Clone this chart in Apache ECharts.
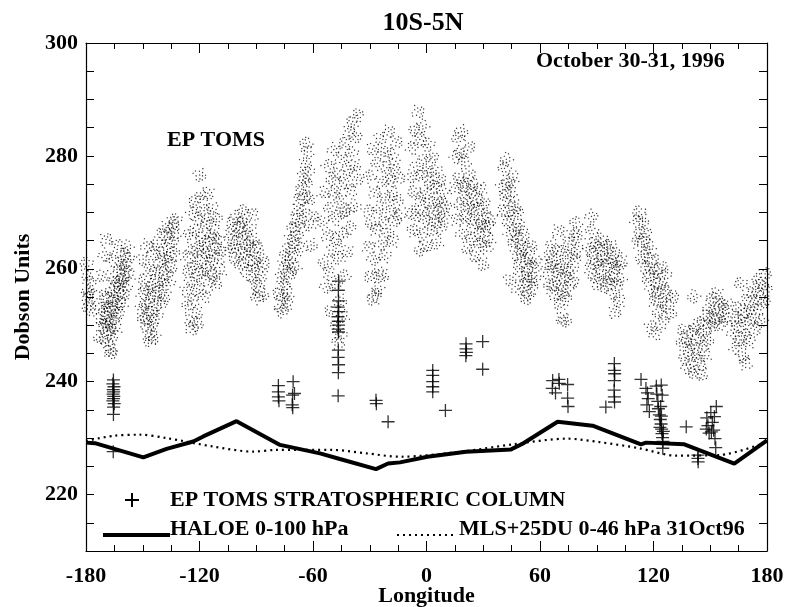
<!DOCTYPE html>
<html>
<head>
    <meta charset="utf-8">
    <script src="https://cdn.jsdelivr.net/npm/echarts@6/dist/echarts.min.js"></script>
</head>
<body style="margin:0;background:#fff;">
    <div id="main" style="width:786px;height:607px;"></div>
<script type="text/javascript">
    // EP TOMS total column, one array per orbit swath [longitude, DU]
    var swath0 = [[-179.5,259],[-178.8,256],[-179.2,253.5],[-177.8,257.5],[-178.5,254.8],[-179.7,261],[-177.5,252.8],[-178.2,255.9]];
    var swath1 = [[-172.5,251.2],[-171.8,253.4],[-171,249.8],[-170.6,255.1],[-170.2,252.2],[-169.8,247.6],[-169.5,250.6],[-169.1,254.3],[-168.7,248.9],[-168.4,251.8],[-168,246.4],[-167.7,249.7],[-167.4,253.1],[-167,250.4],[-166.6,256.2],[-166.3,248.2],[-166,252.7],[-165.6,254.9],[-165.3,250.9],[-164.9,257.6],[-164.6,253.5],[-164.2,249.5],[-163.8,255.8],[-163.5,258.7],[-163.1,252.1],[-162.8,256.9],[-162.4,254.2],[-162.1,259.8],[-161.7,257.2],[-161.3,253.8],[-161,261.1],[-160.6,258.3],[-160.2,255.4],[-159.9,262.6],[-159.5,259.4],[-159.1,256.8],[-158.7,260.7],[-158.3,263.9],[-171.3,258.8],[-170.1,262.4],[-169.4,265.2],[-165.9,261.5],[-163.2,264.1],[-157.9,261.8],[-157.2,258.9],[-172.9,247.9],[-167.2,245.6],[-166.8,245.1]];
    var swath2 = [[-150.5,252.8],[-150,255.6],[-149.5,250.9],[-149,258.1],[-148.6,253.7],[-148.1,251.2],[-147.7,256.4],[-147.2,249.6],[-146.8,254.5],[-146.4,259.8],[-146,252.3],[-145.6,248.4],[-145.2,257.1],[-144.8,250.7],[-144.3,262.6],[-143.9,255.2],[-143.5,253.1],[-143.1,259.3],[-142.7,251.6],[-142.2,264.4],[-141.8,257.8],[-141.4,255.9],[-141,261.2],[-140.5,253.8],[-140.1,266.1],[-139.7,259.7],[-139.3,257.4],[-138.9,263.3],[-138.4,255.2],[-138,261.8],[-137.6,267.3],[-137.1,259.1],[-136.7,264.6],[-136.3,257.6],[-135.8,262.2],[-135.4,266.8],[-135,260.4],[-134.5,264.9],[-134.1,268.2],[-133.6,262.7],[-133.1,266.3],[-132.6,268.7],[-146.5,247.3],[-144.1,247.9],[-149.8,261.7],[-147.9,264.1]];
    var swath3 = [[-126.8,256.2],[-126.4,262.1],[-126,253.4],[-125.6,259.7],[-125.2,266.3],[-124.8,250.8],[-124.4,257.9],[-124,263.6],[-123.6,269.8],[-123.2,254.5],[-122.8,260.4],[-122.4,271.9],[-122,266.7],[-121.6,252.2],[-121.2,258.8],[-120.8,263.1],[-120.4,268.9],[-120,256.3],[-119.6,261.5],[-119.2,272.8],[-118.8,265.4],[-118.4,259.6],[-118,262.8],[-117.6,270.3],[-117.2,255.1],[-116.8,264.6],[-116.4,267.9],[-116,260.2],[-115.6,273.4],[-115.2,263.1],[-114.8,257.8],[-114.4,268.1],[-114,265.5],[-113.6,261.3],[-113.2,270.7],[-112.8,259.1],[-112.4,266.2],[-112,263.8],[-111.5,257.3],[-111,268.8],[-110.4,261.7],[-109.8,265.2],[-109.1,259.6],[-108.5,263.3],[-119.9,276.6],[-123.9,249.3],[-121.3,250.1]];
    var swath4 = [[-103.6,266.1],[-103,263.4],[-102.4,268.2],[-101.8,264.7],[-101.2,261.9],[-100.6,269.1],[-100,266.5],[-99.4,263.2],[-98.8,267.4],[-98.2,260.6],[-97.6,265.3],[-97,268.6],[-96.4,262.8],[-95.8,266.1],[-95.2,259.7],[-94.6,264.2],[-94,261.4],[-93.4,267.3],[-92.8,263.5],[-92.2,258.6],[-91.6,265.1],[-91,261.2],[-90.4,257.4],[-89.8,263.8],[-89.2,260.1],[-88.6,256.2],[-88,262.4],[-87.4,258.8],[-86.8,255.3],[-86.2,260.9],[-97.3,270.2],[-91.9,269.6],[-89.5,254.9]];
    var swath5 = [[-78,255.7],[-77.3,253.2],[-76.7,258.4],[-76.1,254.9],[-75.5,260.6],[-75,256.8],[-74.5,262.3],[-74,258.9],[-73.5,255.7],[-73,261.1],[-72.5,263.7],[-72,259.2],[-71.5,265.4],[-71,262.1],[-70.5,267.2],[-70,264.5],[-69.5,260.3],[-69,268.7],[-68.5,266.1],[-68,270.4],[-67.5,267.8],[-67,272.3],[-66.5,263.6],[-66,274.1],[-65.5,270.2],[-65,276.3],[-64.5,272.7],[-64,278.6],[-63.5,274.9],[-63,280.7],[-62.5,277.1],[-62,267.8],[-61.5,272.5],[-61,264.2],[-60.5,269.3],[-76.4,252.5],[-73.7,253.8],[-63.6,282.2]];
    var swath6 = [[-54.5,268.4],[-54,261.2],[-53.5,273.6],[-53,256.8],[-52.5,265.9],[-52,278.2],[-51.5,259.4],[-51,270.7],[-50.5,252.6],[-50,275.9],[-49.5,263.3],[-49,281.1],[-48.5,257.2],[-48,268.8],[-47.5,249.8],[-47,276.8],[-46.5,261.9],[-46,272.4],[-45.5,254.3],[-45,279.4],[-44.5,266.1],[-44,275.2],[-43.5,258.7],[-43,282.3],[-42.5,270.4],[-42,263.1],[-41.5,277.6],[-41,284.2],[-40.5,267.3],[-40,273.9],[-39.5,280.6],[-39,286.1],[-38.5,271.2],[-38,278.3],[-37.5,283.4],[-37,275.7],[-36.5,287.2],[-46.8,246.9],[-45.2,248.1],[-44.2,251.6],[-47.4,265.2],[-43.8,270.1],[-48.6,273.5]];
    var swath7 = [[-31,270.2],[-30.5,263.8],[-30,276.4],[-29.5,258.6],[-29,268.1],[-28.5,281.2],[-28,261.7],[-27.5,273.5],[-27,255.3],[-26.5,266.9],[-26,278.7],[-25.5,259.2],[-25,270.8],[-24.5,283.1],[-24,264.4],[-23.5,275.3],[-23,268.2],[-22.5,280.6],[-22,262.3],[-21.5,272.7],[-21,277.9],[-20.5,266.5],[-20,284.3],[-19.5,270.1],[-19,275.6],[-18.5,280.2],[-18,264.9],[-17.5,273.3],[-17,278.4],[-16.5,268.6],[-16,282.4],[-15.5,271.8],[-15,276.1],[-14.5,269.4],[-28.2,254.6],[-25.8,256.5],[-23.2,258.8]];
    var swath8 = [[-8.5,276.3],[-8,270.1],[-7.5,281.4],[-7,266.8],[-6.5,273.7],[-6,284.6],[-5.5,269.5],[-5,278.2],[-4.5,287.8],[-4,272.4],[-3.5,282.9],[-3,266.1],[-2.5,276.5],[-2,285.3],[-1.5,270.3],[-1,279.6],[-0.5,273.2],[0,268.4],[0.5,277.1],[1,282.1],[1.5,271.7],[2,275.3],[2.5,266.9],[3,279.8],[3.5,270.2],[4,274.6],[4.5,268.1],[5,277.4],[5.5,264.6],[6,272.3],[6.5,269.7],[7,275.8],[7.5,267.3],[8,271.6],[8.5,273.9],[9,269.1],[-3.2,263.4],[-0.2,264.1],[9.8,271.2]];
    var swath9 = [[15.2,274.3],[15.7,279.8],[16.2,268.7],[16.7,283.1],[17.2,276.2],[17.7,271.4],[18.2,280.5],[18.7,266.3],[19.2,275.1],[19.7,272.6],[20.2,278.9],[20.7,269.2],[21.2,274.8],[21.7,263.7],[22.2,271.3],[22.7,276.6],[23.2,268.5],[23.7,273.1],[24.2,265.4],[24.7,270.7],[25.2,274.9],[25.7,262.3],[26.2,268.1],[26.7,272.4],[27.2,266.2],[27.7,270.6],[28.2,264.4],[28.7,274.2],[29.2,268.3],[29.7,260.8],[30.2,271.7],[30.7,266.5],[31.2,269.4],[31.7,263.8],[32.2,267.6],[33,265.1],[34,268.8],[18.5,284.3],[22.4,281.6]];
    var swath10 = [[40.2,274.6],[40.7,270.3],[41.2,277.8],[41.7,273.1],[42.2,279.4],[42.7,268.6],[43.2,275.4],[43.7,271.8],[44.2,266.2],[44.7,273.7],[45.2,269.4],[45.7,276.2],[46.2,264.8],[46.7,271.1],[47.2,267.3],[47.7,262.6],[48.2,269.8],[48.7,265.1],[49.2,260.7],[49.7,267.4],[50.2,263.2],[50.7,258.9],[51.2,265.6],[51.7,261.3],[52.2,257.2],[52.7,263.5],[53.2,259.4],[53.7,255.6],[54.2,261.8],[54.7,258.1],[55.2,263.9],[55.7,256.7],[56.2,260.2],[57,258.3],[58,261.1],[52.9,254.8],[44.1,258.1],[48.3,256.4]];
    var swath11 = [[64,259.4],[64.6,262.1],[65.2,256.8],[65.8,260.7],[66.4,264.3],[67,257.2],[67.6,261.5],[68.2,255.4],[68.8,259.6],[69.4,263.2],[70,257.9],[70.6,253.8],[71.2,260.4],[71.8,256.1],[72.4,262.8],[73,258.5],[73.6,254.7],[74.2,260.1],[74.8,256.6],[75.4,264.9],[76,259.3],[76.6,262.6],[77.2,257.7],[77.8,266.2],[78.4,261.3],[79,268.1],[79.6,263.4],[80.2,265.7],[71.5,251.2],[73.3,250.8],[69.7,266.7]];
    var swath12 = [[86.2,263.4],[86.8,260.1],[87.4,266.8],[88,262.3],[88.6,258.7],[89.2,264.6],[89.8,261.2],[90.4,257.4],[91,263.7],[91.6,259.8],[92.2,265.3],[92.8,261.6],[93.4,256.9],[94,262.4],[94.6,259.1],[95.2,263.8],[95.8,257.5],[96.4,260.9],[97,264.2],[97.6,258.3],[98.2,261.7],[98.8,255.6],[99.4,259.9],[100,262.6],[100.6,257.2],[101.2,260.4],[101.8,254.3],[102.4,258.1],[103,261.3],[87.2,269.3],[99.6,252.3]];
    var swath13 = [[111.2,268.4],[111.8,264.7],[112.4,270.1],[113,266.3],[113.6,262.1],[114.2,268.5],[114.8,264.9],[115.4,260.4],[116,266.2],[116.6,262.6],[117.2,258.3],[117.8,263.9],[118.4,260.2],[119,256.4],[119.6,261.7],[120.2,258.1],[120.8,254.2],[121.4,259.6],[122,255.8],[122.6,252.3],[123.2,257.4],[123.8,254.1],[124.4,260.2],[125,250.6],[125.6,256.3],[126.2,258.8],[127,253.4],[128,255.7],[129,252.2],[130,254.9],[118.7,249.7],[121.1,248.5]];
    var swath14 = [[135.3,246.8],[136,249.2],[136.7,244.3],[137.4,247.6],[138.1,242.4],[138.8,245.8],[139.5,248.7],[140.2,243.7],[140.9,246.5],[141.6,241.6],[142.3,249.8],[143,244.9],[143.7,247.8],[144.4,242.8],[145.1,250.4],[145.8,246.3],[146.5,248.9],[147.2,244.6],[147.9,251.6],[148.6,247.4],[149.3,253.2],[150,249.6],[150.7,251.4],[151.4,254.8],[152.1,250.2],[152.8,252.7],[153.5,255.6],[154.2,251.3],[155,253.8],[156,250.4],[157,252.9],[158,251.1],[159,253.6],[141.2,255.1],[145.4,241.3]];
    var swath15 = [[162.2,248.6],[162.9,251.4],[163.6,245.9],[164.3,249.7],[165,253.1],[165.7,247.4],[166.4,250.9],[167.1,244.6],[167.8,252.3],[168.5,248.2],[169.2,254.4],[169.9,250.6],[170.6,247.1],[171.3,253.1],[172,255.8],[172.7,251.3],[173.4,249.2],[174.1,256.3],[174.8,252.8],[175.5,258.1],[176.2,254.6],[176.9,250.8],[177.6,257.2],[178.3,254.1],[179,259.1],[179.6,256.3],[168.8,243.2],[166.2,257.4]];

    // EP TOMS stratospheric column (crosses)
    var stratCol = [[-165.5,240.3],[-165.8,239.6],[-165.2,239.1],[-165.6,238.6],[-165.4,238.2],[-165.7,237.8],[-165.3,237.4],[-165.5,237],[-165.8,236.6],[-165.1,236.1],[-165.4,235.5],[-165.5,234.2],[-165.6,227.6],
        [-78.3,239.3],[-78.3,238.2],[-78.3,237.3],[-78,236.6],[-70.5,240],[-70.8,237.6],[-71,235.9],[-69.8,237.9],[-70.7,235.4],
        [-46.4,257.8],[-46.6,256.2],[-46.5,254.3],[-46.7,253.2],[-46.4,252.4],[-46.8,251.5],[-46.6,250.7],[-46.5,250],[-46.7,249.3],[-46.5,248.8],[-46.6,245.6],[-46.7,244.3],[-46.5,243],[-46.6,241.6],[-46.7,237.5],
        [-26.7,236.7],[-26.5,236.1],[-20.3,232.9],
        [3.3,242],[3.3,241.1],[3.3,240],[3.3,239.1],[3.3,238.2],[10,234.9],
        [20.9,246.7],[20.9,245.8],[21.1,245.2],[20.8,244.6],[29.7,247.1],[29.7,242.2],
        [66.7,240.2],[66.5,238.8],[68.2,238],[70,240.4],[70.2,239.7],[74.6,239.5],[74.6,237.1],[74.8,235.6],
        [94.8,235.5],[99.3,243.2],[99.3,242],[99.5,241.4],[99.3,240.2],[99.2,238.5],[99.3,237.3],[99.4,236.4],
        [113.4,240.4],[116,238.8],[116.8,238],[117.2,237],[116.5,235.9],[117.8,234.7],
        [121.5,239.2],[121.8,237.8],[122.3,236.5],[122.6,235.2],[123.1,234.1],[123.6,233.3],[124,232.5],[124.3,231.6],[124.5,230.8],[124.8,230.1],[125,229.4],[124.2,233.9],[123.8,235.6],[125.2,231.2],[124.6,237.6],[124.9,228.2],[123.4,231.9],[124.1,239.4],
        [137.3,232],[143.5,227],[143.5,226.4],[143.6,225.8],
        [148.2,233.6],[148.8,232.2],[149.4,230.9],[150.3,234.5],[151.1,232.8],[151.8,231.4],[152.5,229.9],[152.9,228.3],[153.2,235.6],[150.6,231.1],[147.9,231.6],[152.2,233.8]];

    // HALOE 0-100 hPa
    var haloe = [[-180,229.2],[-175.3,229.1],[-149.7,226.6],[-137.4,228.1],[-123.3,229.4],[-118,230.3],[-100.4,233],[-77.4,228.8],[-56.3,227.3],[-45.8,226.3],[-26.7,224.5],[-20.3,225.5],[-14,225.7],[0.5,226.7],[20.9,227.6],[44.7,228],[50.8,229],[69.3,232.9],[87.8,232.2],[113.4,228.9],[116,229.2],[136.3,228.9],[162.7,225.5],[180,229.6]];
    // MLS+25DU 0-46 hPa
    var mls = [[-180,229.5],[-165.6,230.4],[-151.5,230.6],[-137.4,230],[-112.7,228.5],[-91.6,227.6],[-80,227.9],[-49.4,227.9],[-31.7,227.3],[-14,226.7],[20.9,227.7],[45.6,228.9],[74.6,229.9],[91.3,229.3],[112.5,228.2],[131.9,226.9],[154.8,227],[180,229.3]];

    var tomsAll = [].concat(swath0, swath1, swath2, swath3, swath4, swath5, swath6, swath7,
        swath8, swath9, swath10, swath11, swath12, swath13, swath14, swath15);

    var FONT = 'bold 22px "Liberation Serif"';
    var crossPath = 'path://M0,4.5H10V5.5H0Z M4.5,0H5.5V10H4.5Z';
    // stipple glyph: a little cloud of pixel-sized dots, so each reading shows as grain
    var stipplePath = 'path://M0,2h2v2h-2Z M5,0h2v2h-2Z M11,3h2v2h-2Z M18,1h2v2h-2Z' +
        ' M3,8h2v2h-2Z M9,9h2v2h-2Z M15,7h2v2h-2Z M1,14h2v2h-2Z' +
        ' M7,15h2v2h-2Z M13,12h2v2h-2Z M18,13h2v2h-2Z M4,18h2v2h-2Z' +
        ' M10,18h2v2h-2Z M16,17h2v2h-2Z';

    var myChart = echarts.init(document.getElementById('main'));

    function xAx(pos, showLabel) {
        return {
            type: 'value', position: pos, min: -180, max: 180, interval: 60,
            axisLine: {show: true, onZero: false, lineStyle: {color: '#000', width: 1.2}},
            axisTick: {show: true, inside: true, length: 10, lineStyle: {color: '#000'}},
            minorTick: {show: true, splitNumber: 4, length: 6, lineStyle: {color: '#000'}},
            splitLine: {show: false},
            axisLabel: {show: showLabel, color: '#000', fontFamily: 'Liberation Serif', fontWeight: 'bold', fontSize: 22, margin: 14},
            name: showLabel ? 'Longitude' : '',
            nameLocation: 'middle', nameGap: 34, nameMoveOverlap: false,
            nameTextStyle: {color: '#000', fontFamily: 'Liberation Serif', fontWeight: 'bold', fontSize: 22}
        };
    }
    function yAx(pos, showLabel) {
        return {
            type: 'value', position: pos, min: 210, max: 300, interval: 5,
            axisLine: {show: true, onZero: false, lineStyle: {color: '#000', width: 1.2}},
            axisTick: {show: true, inside: true, length: 8, lineStyle: {color: '#000'}},
            splitLine: {show: false},
            axisLabel: {show: showLabel, color: '#000', fontFamily: 'Liberation Serif', fontWeight: 'bold', fontSize: 22, margin: 8,
                formatter: function (v) { return v % 20 === 0 ? String(v) : ''; }},
            name: showLabel ? 'Dobson Units' : '',
            nameLocation: 'middle', nameGap: 52, nameRotate: 90, nameMoveOverlap: false,
            nameTextStyle: {color: '#000', fontFamily: 'Liberation Serif', fontWeight: 'bold', fontSize: 22}
        };
    }

    var option = {
        backgroundColor: '#fff',
        animation: false,
        grid: {left: 86, right: 19, top: 43, bottom: 56, containLabel: false, outerBoundsMode: 'none'},
        xAxis: [xAx('bottom', true), xAx('top', false)],
        yAxis: [yAx('left', true), yAx('right', false)],
        graphic: [
            {type: 'text', x: 423, y: 23, style: {text: '10S-5N', font: 'bold 26px "Liberation Serif"', fill: '#000', textAlign: 'center', textVerticalAlign: 'middle', align: 'center', verticalAlign: 'middle'}},
            {type: 'text', x: 536, y: 61, style: {text: 'October 30-31, 1996', font: FONT, fill: '#000', textVerticalAlign: 'middle', verticalAlign: 'middle'}},
            {type: 'text', x: 167, y: 140, style: {text: 'EP TOMS', font: FONT, fill: '#000', textVerticalAlign: 'middle', verticalAlign: 'middle'}},
            // legend
            {type: 'line', shape: {x1: 125, y1: 500, x2: 139, y2: 500}, style: {stroke: '#000', lineWidth: 2}},
            {type: 'line', shape: {x1: 132, y1: 493, x2: 132, y2: 507}, style: {stroke: '#000', lineWidth: 2}},
            {type: 'text', x: 170, y: 500, style: {text: 'EP TOMS STRATOSPHERIC COLUMN', font: FONT, fill: '#000', textVerticalAlign: 'middle', verticalAlign: 'middle'}},
            {type: 'line', shape: {x1: 103, y1: 535, x2: 170, y2: 535}, style: {stroke: '#000', lineWidth: 4}},
            {type: 'text', x: 170, y: 529, style: {text: 'HALOE 0-100 hPa', font: FONT, fill: '#000', textVerticalAlign: 'middle', verticalAlign: 'middle'}},
            {type: 'line', shape: {x1: 397, y1: 535, x2: 454, y2: 535}, style: {stroke: '#000', lineWidth: 2, lineDash: [2, 4]}},
            {type: 'text', x: 459, y: 529, style: {text: 'MLS+25DU 0-46 hPa 31Oct96', font: FONT, fill: '#000', textVerticalAlign: 'middle', verticalAlign: 'middle'}}
        ],
        series: [
            {
                name: 'EP TOMS', type: 'scatter', data: tomsAll,
                symbol: stipplePath, symbolSize: 12,
                symbolRotate: function (v, p) { return (p.dataIndex * 47) % 360; },
                itemStyle: {color: '#000'}, silent: true
            },
            {
                name: 'EP TOMS STRATOSPHERIC COLUMN', type: 'scatter', data: stratCol,
                symbol: crossPath, symbolSize: 13, itemStyle: {color: '#000'}, silent: true
            },
            {
                name: 'HALOE 0-100 hPa', type: 'line', data: haloe, showSymbol: false,
                lineStyle: {color: '#000', width: 4}, silent: true
            },
            {
                name: 'MLS+25DU 0-46 hPa 31Oct96', type: 'line', data: mls, showSymbol: false, smooth: 0.3,
                lineStyle: {color: '#000', width: 2.2, type: [2, 4]}, silent: true
            }
        ]
    };

    myChart.setOption(option);
</script>
</body>
</html>
